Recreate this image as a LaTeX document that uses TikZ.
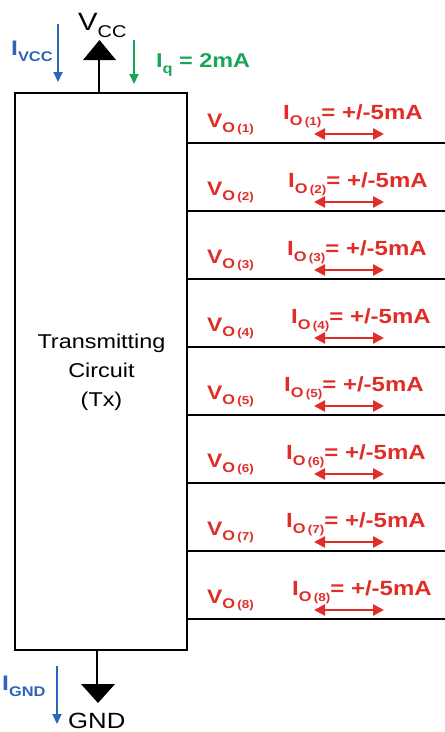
\documentclass[tikz,border=0pt]{standalone}
\usepackage{fontspec}
\setmainfont[FakeStretch=1.17]{Liberation Sans}
\usetikzlibrary{arrows.meta}
\definecolor{cred}{RGB}{225,45,40}
\definecolor{cblue}{RGB}{45,100,185}
\definecolor{cgreen}{RGB}{25,165,85}
\newcommand{\fs}[1]{\fontsize{#1}{#1}\selectfont}
\newcommand{\vo}[1]{\fs{19.5}\textbf{V\raisebox{-0.3em}{\fs{14}O\,\fs{11.5}(#1)}}}
\newcommand{\io}[1]{\fs{20.5}\textbf{I\raisebox{-0.28em}{\fs{14}O\,\fs{11.5}(#1)}= +/-5mA}}
\begin{document}
\begin{tikzpicture}[x=1pt,y=-1pt,
  wire/.style={line width=1.9pt,black},
  redarrow/.style={cred,line width=2.4pt,{Triangle[length=11pt,width=11pt]}-{Triangle[length=11pt,width=11pt]}},
  bluearrow/.style={cblue,line width=2pt,-{Triangle[length=10pt,width=9pt]}},
  greenarrow/.style={cgreen,line width=2pt,-{Triangle[length=10pt,width=9pt]}},
  lbl/.style={inner sep=0pt,anchor=base west}]
\useasboundingbox (0,0) rectangle (445,732);
\fill[white] (0,0) rectangle (445,732);
% main box
\node[draw,line width=1.9pt,minimum width=172pt,minimum height=557pt,inner sep=0pt] (box) at (101,371.5) {};
\node[align=center,font=\fontsize{20}{29}\selectfont,inner sep=0pt,anchor=base] (txt) at (101.5,406) {Transmitting\\Circuit\\(Tx)};
% VCC
\coordinate (vtop) at (99,58);
\draw[wire] (box.north -| vtop) -- (vtop);
\fill (83,60) -- (116,60) -- (99.5,40) -- cycle;
\node[lbl] (vcc) at (78,30) {\fs{25}V\raisebox{-0.3em}{\fs{17}CC}};
% GND
\coordinate (gbot) at (97,686);
\draw[wire] (box.south -| gbot) -- (gbot);
\fill (81,684) -- (115,684) -- (98,703) -- cycle;
\node[lbl] (gnd) at (68,728) {\fs{22}GND};
% I_VCC
\coordinate (ivs) at (58,24);
\coordinate (ive) at (58,82);
\draw[bluearrow] (ivs) -- (ive);
\node[lbl,text=cblue] (ivcc) at (11,55) {\fs{21}\textbf{I\raisebox{-0.3em}{\fs{14}VCC}}};
% I_GND
\coordinate (igs) at (57,666);
\coordinate (ige) at (57,724);
\draw[bluearrow] (igs) -- (ige);
\node[lbl,text=cblue] (ignd) at (2,690) {\fs{21}\textbf{I\raisebox{-0.3em}{\fs{14}GND}}};
% I_q
\coordinate (iqs) at (134,40);
\coordinate (iqe) at (134,84);
\draw[greenarrow] (iqs) -- (iqe);
\node[lbl,text=cgreen] (iq) at (156,67) {\fs{20}\textbf{I\raisebox{-0.3em}{\fs{14}q}\fs{20} = 2mA}};
% outputs
\foreach \k/\y/\ix in {1/143/283,2/211/288,3/279/287,4/347/291,5/415/284,6/483/286,7/551/286,8/619/292}{
  \coordinate (l\k) at (445,\y);
  \draw[wire] (box.east |- l\k) -- (l\k);
  \node[lbl,text=cred] (vo\k) at (207,\y-16) {\vo{\k}};
  \node[lbl,text=cred] (io\k) at (\ix,\y-23.5) {\io{\k}};
  \coordinate (as\k) at (314,\y-9);
  \coordinate (ae\k) at (384,\y-9);
  \draw[redarrow] (as\k) -- (ae\k);
}
\end{tikzpicture}
\end{document}
